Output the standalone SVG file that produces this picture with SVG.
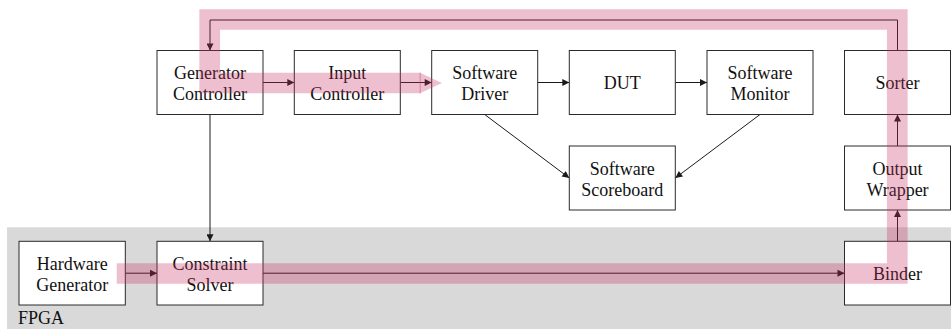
<svg xmlns="http://www.w3.org/2000/svg" width="951" height="329" viewBox="0 0 951 329">
<style>
  .box { fill: #ffffff; stroke: #2a2a2a; stroke-width: 1; }
  .lbl { font-family: "Liberation Serif", "Times New Roman", serif; font-size: 18px; fill: #111111; text-anchor: middle; }
  .conn { fill: none; stroke: #1a1a1a; stroke-width: 1; }
  .hl { fill: none; stroke: #c8305f; stroke-opacity: 0.3; stroke-width: 20.7; stroke-linejoin: miter; stroke-linecap: butt; }
  .hlhead { fill: #c8305f; fill-opacity: 0.3; }
</style>
<defs>
  <marker id="arr" viewBox="0 0 10 10" refX="10" refY="5" markerUnits="userSpaceOnUse" markerWidth="9" markerHeight="7" orient="auto">
    <path d="M0,0 L10,5 L0,10 z" fill="#1a1a1a"/>
  </marker>
</defs>
<rect id="fpga-region" x="7" y="227.3" width="944" height="102" fill="#d9d9d9"/>
<text class="lbl" x="18" y="324" style="text-anchor:start">FPGA</text>

<g id="connectors">
  <path class="conn" d="M263,82.5 H294.3" marker-end="url(#arr)"/>
  <path class="conn" d="M400.3,82.5 H431.7" marker-end="url(#arr)"/>
  <path class="conn" d="M537.7,82.5 H569.3" marker-end="url(#arr)"/>
  <path class="conn" d="M675.3,82.5 H707" marker-end="url(#arr)"/>
  <path class="conn" d="M484.7,114.5 L569.3,178" marker-end="url(#arr)"/>
  <path class="conn" d="M760,114.5 L675.3,178" marker-end="url(#arr)"/>
  <path class="conn" d="M210,114.5 V241.3" marker-end="url(#arr)"/>
  <path class="conn" d="M125.3,273.2 H157" marker-end="url(#arr)"/>
  <path class="conn" d="M263,273.2 H844.5" marker-end="url(#arr)"/>
  <path class="conn" d="M897.5,241.3 V210" marker-end="url(#arr)"/>
  <path class="conn" d="M897.5,146 V114.5" marker-end="url(#arr)"/>
  <path class="conn" d="M897.5,50.5 V20 H210 V50.5" marker-end="url(#arr)"/>
</g>

<g id="generator-controller">
  <rect class="box" x="157" y="50.5" width="106" height="64"/>
  <text class="lbl" x="210" y="79">Generator</text>
  <text class="lbl" x="210" y="100">Controller</text>
</g>
<g id="input-controller">
  <rect class="box" x="294.3" y="50.5" width="106" height="64"/>
  <text class="lbl" x="347.3" y="79">Input</text>
  <text class="lbl" x="347.3" y="100">Controller</text>
</g>
<g id="software-driver">
  <rect class="box" x="431.7" y="50.5" width="106" height="64"/>
  <text class="lbl" x="484.7" y="79">Software</text>
  <text class="lbl" x="484.7" y="100">Driver</text>
</g>
<g id="dut">
  <rect class="box" x="569.3" y="50.5" width="106" height="64"/>
  <text class="lbl" x="622.3" y="89">DUT</text>
</g>
<g id="software-monitor">
  <rect class="box" x="707" y="50.5" width="106" height="64"/>
  <text class="lbl" x="760" y="79">Software</text>
  <text class="lbl" x="760" y="100">Monitor</text>
</g>
<g id="sorter">
  <rect class="box" x="844.5" y="50.5" width="106" height="64"/>
  <text class="lbl" x="897.5" y="89">Sorter</text>
</g>
<g id="software-scoreboard">
  <rect class="box" x="569.3" y="146" width="106" height="64"/>
  <text class="lbl" x="622.3" y="175">Software</text>
  <text class="lbl" x="622.3" y="196">Scoreboard</text>
</g>
<g id="output-wrapper">
  <rect class="box" x="844.5" y="146" width="106" height="64"/>
  <text class="lbl" x="897.5" y="175">Output</text>
  <text class="lbl" x="897.5" y="196">Wrapper</text>
</g>
<g id="hardware-generator">
  <rect class="box" x="19" y="241.3" width="106.3" height="63.7"/>
  <text class="lbl" x="72.2" y="269.5">Hardware</text>
  <text class="lbl" x="72.2" y="290.5">Generator</text>
</g>
<g id="constraint-solver">
  <rect class="box" x="157" y="241.3" width="106" height="63.7"/>
  <text class="lbl" x="210" y="269.5">Constraint</text>
  <text class="lbl" x="210" y="290.5">Solver</text>
</g>
<g id="binder">
  <rect class="box" x="844.5" y="241.3" width="106" height="63.7"/>
  <text class="lbl" x="897.5" y="279.5">Binder</text>
</g>

<g id="highlight-path">
  <path class="hl" d="M116.7,273.5 H897.3 V19.5 H209.7 V83 H421"/>
  <path class="hlhead" d="M419.5,72.6 L442,83 L419.5,93.4 z"/>
</g>
</svg>
